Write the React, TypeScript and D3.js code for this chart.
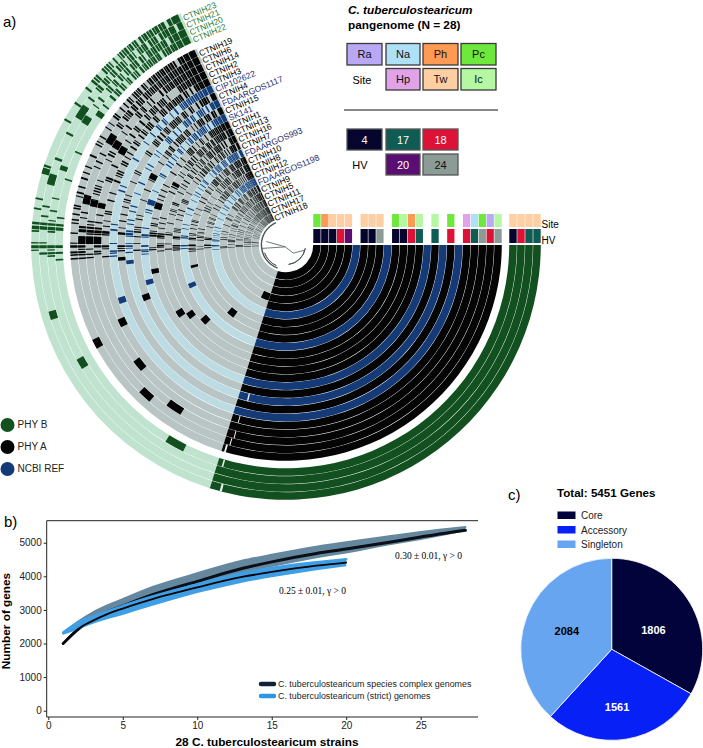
import React, { useRef, useEffect } from 'react';
import * as d3 from 'd3';

// genomes from the inner ring outwards
const phyARings = ['CTNIH18', 'CTNIH17', 'CTNIH11', 'CTNIH5', 'CTNIH9', 'FDAARGOS1198', 'CTNIH12', 'CTNIH8', 'CTNIH10', 'FDAARGOS993', 'CTNIH7', 'CTNIH16', 'CTNIH13', 'CTNIH1', 'SK141', 'CTNIH15', 'FDAARGOS1117', 'CTNIH4', 'CIP102622', 'CTNIH3', 'CTNIH2', 'CTNIH14', 'CTNIH6', 'CTNIH19'];
const phyBRings = ['CTNIH22', 'CTNIH20', 'CTNIH21', 'CTNIH23'];
const ncbiRefs = ['FDAARGOS1198', 'FDAARGOS993', 'SK141', 'FDAARGOS1117', 'CIP102622'];

const siteA = ['Pc', 'Ph', 'Tw', 'Tw', 'Tw', null, 'Tw', 'Tw', 'Tw', null, 'Pc', 'Ic', 'Ph', 'Ic', null, 'Ic', null, 'Pc', null, 'Hp', 'Na', 'Pc', 'Ra', 'Ic'];
const hvA = ['4', '4', '4', '18', '20', null, '4', '4', '24', null, '4', '4', '18', '17', null, '17', null, '18', null, '18', '17', '24', '18', '24'];
const siteB = ['Tw', 'Tw', 'Tw', 'Tw'];
const hvB = ['4', '18', '17', '17'];

const siteKeys = [['Ra', 'Na', 'Ph', 'Pc'], [null, 'Hp', 'Tw', 'Ic']];
const hvKeys = [['4', '17', '18'], [null, '20', '24']];
const keyColours: Record<string, string> = {
  Ra: '#b9a8f4', Na: '#aee0f8', Ph: '#ff9a55', Pc: '#6ee83c', Hp: '#e0a3e8', Tw: '#fdcfa3', Ic: '#b5f7a2',
  '4': '#05052e', '17': '#0f5c55', '18': '#dc1336', '20': '#5b0e72', '24': '#8b9c97',
};

// angle of each part of the ring, degrees clockwise from 12 o'clock
const coreSpan = [90, 197.4];
const accessorySpan = [197.4, 335.5];

// angle, width, presence in phy A rings | phy B rings (inner to outer)
const panBins: [number, number, string][] = [
  [266.3, 0.4, '.....#..#.....#...##.###|#...'],
  [267.3, 0.4, '#..##..##.#.#.#.#.#.####|.#..'],
  [268.0, 0.5, '.##.#.#.####.###.##.#.##|###.'],
  [268.8, 0.3, '#.#.##.#..#.##..##.#.##.|.#.#'],
  [269.6, 0.7, '..#..##.###.#.#.##.##.##|####'],
  [270.5, 0.3, '##.#..#.#..##..##.#..#.#|..##'],
  [273.2, 0.4, '.#.#.#.##.#.#.###..###.#|.#.#'],
  [274.0, 0.8, '##.#.##.###.###.##.####.|####'],
  [275.0, 0.6, '#..##.##.#.###.##.#.###.|####'],
  [275.9, 0.3, '.##..#.##..#.#.#.#.#.#.#|.#..'],
  [276.8, 0.4, '..#.#...#.#...##..#.##.#|#.#.'],
  [277.6, 0.3, '.#...#.#..#.#...#..#..#.|....'],
  [278.3, 0.4, '...#...#..#..#...#.....#|.#.#'],
  [279.1, 0.4, '.#...#...#...#..#...#.#.|..#.'],
  [279.9, 0.4, '..#.#...#...#..#...#...#|....'],
  [280.6, 0.4, '...#...#...#.....#.#...#|...#'],
  [281.4, 0.3, '.##..#...#...#.#.....#..|.#..'],
  [282.3, 0.4, '#...#...#...#...#...#...|....'],
  [283.2, 0.3, '..#...#...#...#..#...#.#|....'],
  [284.2, 0.5, '.#...#..#.....#.#..#...#|....'],
  [285.0, 0.3, '...#....#..#.....#...#..|..#.'],
  [285.8, 0.4, '#.#...#...#..#...#...#.#|....'],
  [286.6, 0.4, '#.....#....#..#....#.#..|#...'],
  [287.4, 0.3, '.#.#.....#.#...#.#...#..|....'],
  [288.2, 0.5, '..#.#.....#...#...#....#|...#'],
  [289.0, 0.3, '.#....#.#.......#....#..|....'],
  [289.8, 0.4, '#..#..#....#.#....#.#..#|....'],
  [290.6, 0.6, '...#.....#.#.......##...|..#.'],
  [291.5, 0.4, '#....#.......#.#.......#|....'],
  [292.3, 0.3, '.#.#..#.#.#...#..#.#..#.|....'],
  [293.1, 0.5, '..#....#..#.....#..#....|....'],
  [293.9, 0.4, '#...#.....#..#.....#..#.|#...'],
  [294.7, 0.5, '.#..#..#....#.......#..#|....'],
  [295.5, 0.3, '...#.....#.....#.#...#..|....'],
  [296.3, 0.4, '.#.#.#.#...#.#...#.#..#.|....'],
  [297.1, 0.5, '#.....#.#...#......#.#..|..#.'],
  [298.0, 0.4, '..#.#.....#....#.....#.#|....'],
  [298.8, 0.3, '#..#...#.#.#..#.#..#...#|....'],
  [299.6, 0.5, '.#....#.#.....#...#.....|...#'],
  [300.4, 0.4, '...#.#...#.#....#..#...#|....'],
  [302.4, 0.5, '#.#..#.....#.#.....#..#.|.#..'],
  [303.2, 0.3, '.#.#.#.#.#..#..#.#..#..#|....'],
  [304.0, 0.5, '...#..#.#.....#..#.#....|..##'],
  [304.7, 0.3, '#.#.#...#.#.#...#..#.#.#|....'],
  [305.4, 0.5, '.#..#....#.#..#.....#.#.|#...'],
  [306.1, 0.3, '#...#.#....#...##.#...#.|.#..'],
  [306.8, 0.5, '..##..#.#.#..#.....#.#.#|..#.'],
  [307.5, 0.4, '.#.#.#...#..#.##.#..#..#|#...'],
  [308.2, 0.5, '#...#.##.#.#...#.#.##.#.|.#.#'],
  [308.9, 0.3, '.#.#..#.#.#.#.#..#.#..#.|....'],
  [309.6, 0.4, '..#.#..#...#.#.#..#...##|..#.'],
  [310.3, 0.6, '.#.##.#.#.#.#..#.#.##.#.|#.##'],
  [311.1, 0.4, '#.#..##.#...#.#.#..#.#.#|.#.#'],
  [311.8, 0.5, '.#.#..#.#.##..#.##.#.##.|####'],
  [312.5, 0.5, '#..#.#.##.#.#..##.#.#.##|#.#.'],
  [313.2, 0.3, '.##.#.#..#.#.##..##.##.#|.##.'],
  [313.8, 0.5, '#.#.#..##.#.##.#.#.#.##.|##.#'],
  [314.5, 0.4, '.#.##.#.#.##.#.#.#.##.##|#.##'],
  [315.2, 0.5, '##..#.##.#.#.#.##.#.#.##|.###'],
  [315.9, 0.3, '.#.#.##..##.#.##.##.##.#|##.#'],
  [316.5, 0.5, '#.##.#.##.#.##.#.#.##.##|#.#.'],
  [317.2, 0.4, '.##.#.##.#.##.#.##.#.##.|.###'],
  [317.9, 0.5, '##.#.#.#.##.#.##.#.##.##|###.'],
  [318.6, 0.3, '#.##.##.##.#.#.#.##.#.##|#.##'],
  [319.2, 0.5, '.##.#.##.#.##.##.#.##.#.|##.#'],
  [319.9, 0.4, '##.##.#.##.##.#.##.##.##|.###'],
  [320.6, 0.6, '#.#.###.#.##.##.#.##.###|####'],
  [321.4, 0.3, '.###.#.##.#.##.###.##.##|#.##'],
  [322.0, 0.6, '##.#.##.##.##.#.##.#.###|##.#'],
  [322.8, 0.4, '#.##.###.##.#.##.###.###|####'],
  [323.4, 0.5, '###.##.#.###.##.#.##.###|#.##'],
  [324.1, 0.4, '.##.###.##.##.###.##.###|###.'],
  [324.7, 0.6, '##.###.##.###.##.###.###|####'],
  [325.5, 0.4, '#.###.###.##.###.##.####|##.#'],
  [326.1, 0.6, '###.##.###.###.##.######|####'],
  [326.9, 0.5, '.###.###.##.###.#.######|.###'],
  [327.6, 0.6, '##.###.###.###.####.####|####'],
  [328.4, 0.5, '###.###.###.##.##.######|##.#'],
  [329.1, 0.7, '#.####.###.#####.##.###.|####'],
  [330.0, 0.6, '####.######.###.########|#.##'],
  [330.8, 0.8, '##.####.###.####.#######|####'],
  [331.7, 0.6, '.#######.###.###########|###.'],
  [332.4, 0.9, '####.####.#####.#.######|####'],
  [333.4, 0.7, '###.######.#############|##.#'],
  [334.2, 1.3, '########################|####'],
];

// single clusters seen on one ring only: ring, angle, width
const soloClusters: [string, number, number][] = [
  ['CTNIH5', 201.5, 8], ['CTNIH8', 218.5, 5], ['CTNIH7', 227.2, 3.6], ['CTNIH16', 233.9, 3.2],
  ['CTNIH13', 237.3, 3.2], ['CTNIH6', 223, 3.8], ['CTNIH14', 214.3, 4.8], ['CTNIH2', 230.8, 3.6],
  ['CTNIH19', 242.6, 2.6], ['CTNIH3', 244.8, 2.6], ['CIP102622', 251.5, 2], ['CTNIH15', 249.6, 2.4],
  ['FDAARGOS993', 247, 2.6], ['SK141', 254.9, 2], ['CTNIH1', 258.8, 2], ['CTNIH10', 257.1, 1.6],
  ['FDAARGOS1117', 263.8, 1.4], ['CTNIH4', 265.2, 1.2], ['CTNIH2', 271.4, 2.2], ['CTNIH14', 271.4, 2.2],
  ['CTNIH6', 271.4, 2.2], ['CTNIH6', 282.8, 2.6], ['CTNIH14', 282.2, 1.8], ['CTNIH2', 282, 1.6],
  ['CTNIH1', 287, 2.6], ['SK141', 287.5, 2], ['CTNIH13', 298.6, 1.6], ['CTNIH15', 297, 2],
  ['CTNIH6', 301, 2.6], ['CTNIH14', 300.6, 2.4], ['CTNIH2', 300, 2.4], ['CTNIH22', 209, 5],
  ['CTNIH20', 240, 2.6], ['CTNIH21', 253.3, 2], ['CTNIH21', 285.6, 2.6], ['CTNIH23', 287, 1.4],
  ['CTNIH20', 289, 1.2], ['CTNIH21', 303, 3.4], ['CTNIH20', 302, 2], ['CTNIH22', 305, 1.4],
];

// small misses just inside the core: ring, angle, width
const coreGaps: [string, number, number][] = [
  ['CTNIH19', 196.2, 0.5], ['CTNIH6', 195.5, 0.3], ['CTNIH14', 194.9, 0.3], ['CTNIH3', 194.9, 0.3],
  ['FDAARGOS1117', 193.6, 0.5], ['CTNIH22', 195.8, 0.4], ['CTNIH23', 194.6, 0.5],
];

// centre tree: radius, start, end, stroke width / angle, radius pairs
const treeArcs: [number, number, number, number][] = [[24.6, 200, 336, 1.4], [19.6, 100, 172, 1], [22.8, 205, 250, 0.8]];
const treeBranches: [number, number][][] = [[[280, 20], [200, 2], [138, 11], [105, 19.6]], [[200, 2], [262, 24.6]]];

const curveX = [1, 2, 3, 4, 5, 7, 10, 13, 15, 18, 20, 23, 25, 28];
const complexMean = [2000, 2420, 2740, 2950, 3120, 3450, 3850, 4230, 4430, 4680, 4810, 5020, 5170, 5370];
const complexUpper = [2300, 2650, 2930, 3140, 3320, 3680, 4090, 4460, 4640, 4880, 5010, 5200, 5320, 5470];
const complexLower = [2280, 2470, 2680, 2860, 3010, 3310, 3700, 4080, 4280, 4540, 4680, 4930, 5080, 5340];
const strictMean = [2000, 2430, 2680, 2880, 3040, 3320, 3670, 3980, 4130, 4320, 4410];
const strictUpper = [2330, 2620, 2800, 2960, 3120, 3400, 3760, 4090, 4250, 4420, 4510];
const strictLower = [2260, 2420, 2590, 2730, 2850, 3120, 3500, 3810, 3970, 4180, 4300];
const xTicks = [0, 5, 10, 15, 20, 25];
const yTicks = [0, 1000, 2000, 3000, 4000, 5000];

const pieNames = ['Core', 'Accessory', 'Singleton'];
const pieValues = [1806, 1561, 2084];
const pieColours = ['#03033b', '#0720f5', '#67a5f0'];
const pieLabelColours = ['#fff', '#fff', '#000'];
const pieLabelNudge = [[2, 8], [-2, 16], [-2, 2]];

const SANS = '"Liberation Sans", sans-serif';
const BLACK = '#040404';
const BLUE = '#143a78';
const GREEN = '#12501f';
const GREY = '#b9c5c5';
const PALE_BLUE = '#bcdbe3';
const PALE_GREEN = '#bfe3cf';

const App: React.FC = () => {
  const svgRef = useRef<SVGSVGElement | null>(null);

  useEffect(() => {
    if (!svgRef.current) return;
    d3.select(svgRef.current).selectAll('*').remove(); // Clear previous chart

    const svg = d3.select(svgRef.current).style('font-family', SANS);
    const rad = (deg: number) => (deg * Math.PI) / 180;

    const label = (x: number, y: number, s: string, size: number, extra: Record<string, string> = {}) => {
      const t = svg.append('text').attr('x', x).attr('y', y).attr('font-size', size).text(s);
      Object.entries(extra).forEach(([k, v]) => t.attr(k, v));
      return t;
    };

    label(3, 27, 'a)', 15);
    label(4, 527, 'b)', 15);
    label(508, 500, 'c)', 15);

    // ---------- a) pangenome rings
    const cx = 286;
    const cy = 245;
    const ringA = d3.scaleLinear().domain([0, 24]).range([27, 216]);
    const ringB = d3.scaleLinear().domain([0, 4]).range([223, 255]);
    const rings = [
      ...phyARings.map((name, i) => ({ name, r0: ringA(i), r1: ringA(i + 1), group: 'A' })),
      ...phyBRings.map((name, i) => ({ name, r0: ringB(i), r1: ringB(i + 1), group: 'B' })),
    ];
    const ringFill = (d: { name: string; group: string }) =>
      d.group === 'B' ? GREEN : ncbiRefs.includes(d.name) ? BLUE : BLACK;
    const ringPale = (d: { name: string; group: string }) =>
      d.group === 'B' ? PALE_GREEN : ncbiRefs.includes(d.name) ? PALE_BLUE : GREY;

    const arc = d3.arc();
    const ringArc = (d: { r0: number; r1: number }, a0: number, a1: number) =>
      arc({ innerRadius: d.r0 + 0.2, outerRadius: d.r1 - 0.2, startAngle: rad(a0), endAngle: rad(a1) }) as string;

    const wheel = svg.append('g').attr('transform', `translate(${cx},${cy})`);

    wheel.append('g').selectAll('path').data(rings).enter().append('path')
      .attr('d', d => ringArc(d, accessorySpan[0], accessorySpan[1]))
      .attr('fill', d => ringPale(d));

    wheel.append('g').selectAll('path').data(rings).enter().append('path')
      .attr('d', d => ringArc(d, coreSpan[0], coreSpan[1]))
      .attr('fill', d => ringFill(d));

    // Accessory clusters, one mask per angular bin
    const marks: { ring: (typeof rings)[number]; theta: number; width: number }[] = [];
    panBins.forEach(([theta, width, mask]) => {
      mask.replace('|', '').split('').forEach((c, i) => {
        if (c === '#' && rings[i]) marks.push({ ring: rings[i], theta, width });
      });
    });
    soloClusters.forEach(([name, theta, width]) => {
      const ring = rings.find(r => r.name === name);
      if (ring) marks.push({ ring, theta, width });
    });

    wheel.append('g').selectAll('path').data(marks).enter().append('path')
      .attr('d', d => ringArc(d.ring, d.theta - d.width / 2, Math.min(d.theta + d.width / 2, accessorySpan[1])))
      .attr('fill', d => ringFill(d.ring));

    wheel.append('g').selectAll('path')
      .data(coreGaps)
      .enter().append('path')
      .attr('d', d => ringArc(rings.find(r => r.name === d[0])!, d[1], d[1] + d[2]))
      .attr('fill', '#e8eeee');

    // Centre tree
    const tree = wheel.append('g').attr('fill', 'none').attr('stroke', '#4a5555');
    treeArcs.forEach(([r, a0, a1, w]) => {
      tree.append('path')
        .attr('d', d3.arc()({ innerRadius: r, outerRadius: r, startAngle: rad(a0), endAngle: rad(a1) }) as string)
        .attr('stroke-width', w);
    });
    const branch = d3.lineRadial<[number, number]>().angle(d => rad(d[0])).radius(d => d[1]);
    treeBranches.forEach(b => {
      tree.append('path').attr('d', branch(b) as string).attr('stroke-width', 0.8);
    });

    // Ring names along the open edge
    const edge = accessorySpan[1];
    wheel.append('g').selectAll('text').data(rings).enter().append('text')
      .attr('transform', d => {
        const r = (d.r0 + d.r1) / 2;
        const x = r * Math.sin(rad(edge));
        const y = -r * Math.cos(rad(edge));
        return `translate(${x},${y + 2.4}) rotate(-23) translate(1.5,2.8)`;
      })
      .attr('font-size', 8.5)
      .attr('fill', d => (d.group === 'B' ? '#2f7d3c' : ncbiRefs.includes(d.name) ? '#1c2a6e' : '#000'))
      .text(d => d.name);

    // Site and HV strips line up with the rings
    const stripRows = [
      { a: siteA, b: siteB, y0: 214, y1: 227, name: 'Site' },
      { a: hvA, b: hvB, y0: 229, y1: 243, name: 'HV' },
    ];
    stripRows.forEach(row => {
      const cells = [...row.a, ...row.b].map((key, i) => ({ key, ring: rings[i] })).filter(d => d.key);
      svg.append('g').selectAll('rect').data(cells).enter().append('rect')
        .attr('x', d => cx + d.ring.r0 + 0.3)
        .attr('width', d => d.ring.r1 - d.ring.r0 - 0.6)
        .attr('y', row.y0)
        .attr('height', row.y1 - row.y0)
        .attr('fill', d => keyColours[d.key as string]);
      label(541.5, row.y1 + 0.5, row.name, 10);
    });

    // Colour keys, top right
    label(348, 14, 'C. tuberculostearicum', 11.8, { 'font-weight': 'bold', 'font-style': 'italic' });
    label(348, 29, 'pangenome (N = 28)', 11.8, { 'font-weight': 'bold' });

    const keyX = [347, 386, 423, 461];
    const keyW = [35, 34, 35, 35];
    const drawKeys = (rows: (string | null)[][], ys: number[], h: number, border: string) => {
      rows.forEach((row, j) => {
        row.forEach((k, i) => {
          if (!k) return;
          svg.append('rect').attr('x', keyX[i]).attr('y', ys[j]).attr('width', keyW[i]).attr('height', h)
            .attr('fill', keyColours[k]).attr('stroke', border).attr('stroke-width', 1.3);
          label(keyX[i] + keyW[i] / 2, ys[j] + h / 2 + 4, k, 11, {
            'text-anchor': 'middle',
            fill: ['4', '17', '18', '20'].includes(k) ? '#fff' : '#111',
          });
        });
      });
    };
    drawKeys(siteKeys, [43.5, 68.5], 21.5, '#3a3a3a');
    drawKeys(hvKeys, [129, 154], 21, '#555');
    label(362, 84, 'Site', 11, { 'text-anchor': 'middle' });
    label(360, 169, 'HV', 11, { 'text-anchor': 'middle' });
    svg.append('line').attr('x1', 344).attr('x2', 498).attr('y1', 110).attr('y2', 110).attr('stroke', '#111').attr('stroke-width', 1.2);

    // Phylogroup key, left
    const groupNames = ['PHY B', 'PHY A', 'NCBI REF'];
    const groupColours = [GREEN, BLACK, BLUE];
    const groupY = d3.scalePoint<string>().domain(groupNames).range([425, 469]);
    groupNames.forEach((g, i) => {
      svg.append('circle').attr('cx', 7.5).attr('cy', groupY(g)!).attr('r', 7).attr('fill', groupColours[i]);
      label(17.5, groupY(g)! + 3.4, g, 10, { fill: '#222' });
    });

    // ---------- b) accumulation curves
    const x = d3.scaleLinear().domain([0, 25]).range([48.3, 420.7]);
    const y = d3.scaleLinear().domain([0, 5000]).range([710.7, 542.7]);
    const frame = { left: 46.7, right: 478, top: 520.7, bottom: 717 };

    svg.append('path')
      .attr('d', `M${frame.right},${frame.top}H${frame.left}V${frame.bottom}H${frame.right}`)
      .attr('fill', 'none').attr('stroke', '#222').attr('stroke-width', 1);

    const axisStyle = (g: d3.Selection<SVGGElement, unknown, null, undefined>) => {
      g.select('.domain').remove();
      g.selectAll('text').attr('font-size', 10).attr('font-family', SANS).attr('fill', '#222');
      g.selectAll('line').attr('stroke', '#222');
    };
    svg.append('g').attr('transform', `translate(0,${frame.bottom})`)
      .call(d3.axisBottom(x).tickValues(xTicks).tickSize(3).tickPadding(2)).call(axisStyle);
    svg.append('g').attr('transform', `translate(${frame.left},0)`)
      .call(d3.axisLeft(y).tickValues(yTicks).tickFormat(d3.format('d')).tickSize(3).tickPadding(2)).call(axisStyle);

    const band = (hi: number[], lo: number[]) => d3.area<number>()
      .x((_, i) => x(curveX[i])).y0((_, i) => y(lo[i])).y1(d => y(d)).curve(d3.curveMonotoneX)(hi) as string;
    const trace = (vals: number[]) => d3.line<number>()
      .x((_, i) => x(curveX[i])).y(d => y(d)).curve(d3.curveMonotoneX)(vals) as string;

    svg.append('path').attr('d', band(complexUpper, complexLower)).attr('fill', '#66889f');
    svg.append('path').attr('d', trace(complexUpper)).attr('fill', 'none').attr('stroke', '#66889f').attr('stroke-width', 2).attr('stroke-linecap', 'round');
    svg.append('path').attr('d', trace(complexMean)).attr('fill', 'none').attr('stroke', '#0a0f18').attr('stroke-width', 3).attr('stroke-linecap', 'round');
    svg.append('path').attr('d', band(strictUpper, strictLower)).attr('fill', '#3f9fe6');
    svg.append('path').attr('d', trace(strictUpper)).attr('fill', 'none').attr('stroke', '#3f9fe6').attr('stroke-width', 2.5).attr('stroke-linecap', 'round');
    svg.append('path').attr('d', trace(strictMean)).attr('fill', 'none').attr('stroke', '#050505').attr('stroke-width', 1.8).attr('stroke-linecap', 'round');

    label(395, 559, '0.30 ± 0.01, γ > 0', 9.5, { 'font-family': '"Liberation Serif", serif' });
    label(279, 594, '0.25 ± 0.01, γ > 0', 9.5, { 'font-family': '"Liberation Serif", serif' });

    const curveLegend = [
      { name: 'C. tuberculostearicum species complex genomes', colour: '#0f2238', yy: 684 },
      { name: 'C. tuberculostearicum (strict) genomes', colour: '#2a96e8', yy: 696 },
    ];
    curveLegend.forEach(d => {
      svg.append('line').attr('x1', 261).attr('x2', 274).attr('y1', d.yy).attr('y2', d.yy)
        .attr('stroke', d.colour).attr('stroke-width', 4.5).attr('stroke-linecap', 'round');
      label(278, d.yy + 3, d.name, 8.9, { fill: '#222' });
    });

    label(267, 746, '28 C. tuberculostearicum strains', 11.8, { 'font-weight': 'bold', 'text-anchor': 'middle' });
    svg.append('text').attr('transform', 'translate(10,621) rotate(-90)')
      .attr('font-size', 11.8).attr('font-weight', 'bold').attr('text-anchor', 'middle').text('Number of genes');

    // ---------- c) pie
    label(557, 497, 'Total: 5451 Genes', 11.6, { 'font-weight': 'bold' });
    pieNames.forEach((n, i) => {
      const ky = d3.scaleLinear().domain([0, 1]).range([511.5, 526])(i);
      svg.append('rect').attr('x', 557.5).attr('y', ky).attr('width', 18).attr('height', 7.5).attr('fill', pieColours[i]);
      label(581, ky + 7.5, n, 10, { fill: '#222' });
    });

    const pie = d3.pie<number>().sort(null)(pieValues);
    const pieG = svg.append('g').attr('transform', 'translate(611.7,649.3)');
    const pieArc = d3.arc<d3.PieArcDatum<number>>().innerRadius(0).outerRadius(91);
    pieG.selectAll('path').data(pie).enter().append('path')
      .attr('d', pieArc)
      .attr('fill', (_, i) => pieColours[i])
      .attr('stroke', '#fff').attr('stroke-width', 0.8);
    const labelArc = d3.arc<d3.PieArcDatum<number>>().innerRadius(46).outerRadius(46);
    pieG.selectAll('text').data(pie).enter().append('text')
      .attr('transform', (d, i) => {
        const [px, py] = labelArc.centroid(d);
        return `translate(${px + pieLabelNudge[i][0]},${py + pieLabelNudge[i][1]})`;
      })
      .attr('text-anchor', 'middle').attr('font-size', 11).attr('font-weight', 'bold')
      .attr('fill', (_, i) => pieLabelColours[i])
      .text(d => d.data);
  }, []);

  return <svg ref={svgRef} width={703} height={748} style={{ position: 'absolute', left: 0, top: 0 }} />;
};

export default App;
